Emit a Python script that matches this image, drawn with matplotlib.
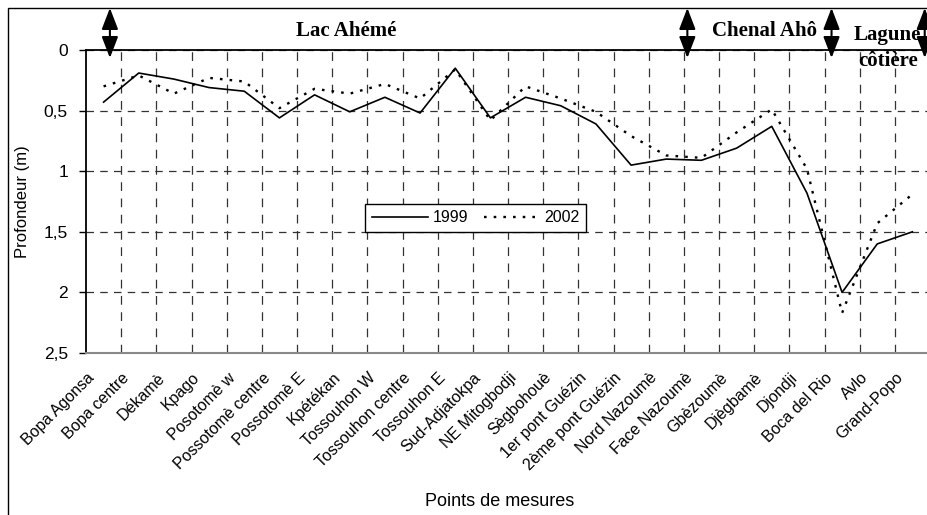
import matplotlib
matplotlib.use("Agg")
import matplotlib.pyplot as plt
from matplotlib.patches import Rectangle
import matplotlib.transforms as mtransforms
import numpy as np

plt.rcParams['font.family'] = ['Liberation Sans', 'DejaVu Sans']

# points de mesure
points = ["Bopa Agonsa", "Bopa centre", "Dékamè", "Kpago", "Posotomè w",
          "Possotomè centre", "Possotomè E", "Kpétékan", "Tossouhon W",
          "Tossouhon centre", "Tossouhon E", "Sud-Adjatokpa", "NE Mitogbodji",
          "Sègbohouè", "1er pont Guézin", "2ème pont Guézin", "Nord Nazoumè",
          "Face Nazoumè", "Gbèzoumè", "Djègbamè", "Djondji", "Boca del Rio",
          "Avlo", "Grand-Popo"]

prof_1999 = [0.43, 0.19, 0.24, 0.31, 0.34, 0.56, 0.37, 0.51, 0.39, 0.52,
             0.15, 0.56, 0.39, 0.46, 0.61, 0.95, 0.90, 0.91, 0.81, 0.63,
             1.18, 2.00, 1.60, 1.50]
prof_2002 = [0.30, 0.21, 0.36, 0.23, 0.26, 0.48, 0.32, 0.36, 0.28, 0.40,
             0.16, 0.58, 0.30, 0.40, 0.51, 0.71, 0.87, 0.89, 0.68, 0.49,
             0.98, 2.17, 1.43, 1.19]

yticks = [0, 0.5, 1, 1.5, 2, 2.5]
ytick_labels = ["0", "0,5", "1", "1,5", "2", "2,5"]

# zones (position x en unités de catégorie)
zones = [("Lac Ahémé", 6.9), ("Chenal Ahô", 18.8), ("Lagune\ncôtière", 22.3)]
fleches = [0.18, 16.6, 20.7, 23.35]

W, H = 927, 515
fig = plt.figure(figsize=(W / 100, H / 100), dpi=100)
ax = fig.add_axes([86 / W, (H - 353) / H, (930 - 86) / W, 303 / H])

x = np.arange(len(points))
ax.plot(x, prof_1999, color='black', lw=1.2, label='1999')
ax.plot(x, prof_2002, color='black', lw=1.7, linestyle=(0, (1.1, 3.0)), label='2002')

ax.set_xlim(-0.5, len(points) - 0.5)
ax.set_ylim(2.5, 0)
ax.set_yticks(yticks)
ax.set_yticklabels(ytick_labels, fontsize=12.5)
ax.set_xticks(x)
ax.set_xticklabels([])
ax.set_xticks(x[:-1] + 0.5, minor=True)
ax.tick_params(axis='x', which='both', length=0)
ax.tick_params(axis='y', length=5, width=1, direction='out', pad=8)

# étiquettes des points, décalées comme dans l'original
decal = mtransforms.ScaledTranslation(-0.17, -0.17, fig.dpi_scale_trans)
for i, nom in enumerate(points):
    ax.text(x[i], 0, nom, transform=ax.get_xaxis_transform() + decal,
            rotation=45, ha='right', va='top', rotation_mode='anchor', fontsize=11.5)

ax.grid(True, axis='y', which='major', color='#333333', lw=0.9, linestyle=(0, (6, 5)))
ax.grid(True, axis='x', which='minor', color='#333333', lw=0.9, linestyle=(0, (7, 6)))
ax.grid(False, axis='x', which='major')

ax.spines['top'].set_linewidth(1.3)
ax.spines['left'].set_linewidth(1.3)
ax.spines['bottom'].set_color('#888888')
ax.spines['bottom'].set_linewidth(1.5)
ax.spines['right'].set_visible(False)

ax.set_ylabel("Profondeur (m)", fontsize=12)
ax.yaxis.set_label_coords(-0.066, 0.5)
fig.text(500 / W, 1 - 502 / H, "Points de mesures", fontsize=13, ha='center', va='center')

leg = ax.legend(loc='center', bbox_to_anchor=(0.462, 0.446), ncol=2, fontsize=11.5,
                handlelength=3.5, frameon=True, fancybox=False, framealpha=1,
                edgecolor='black', borderpad=0.4, columnspacing=1.0, handletextpad=0.3,
                borderaxespad=0)
leg.get_frame().set_linewidth(1.0)

# zones et flèches au-dessus du graphique
trans = mtransforms.blended_transform_factory(ax.transData, fig.transFigure)
for nom, xpos in zones:
    yy = 1 - 31 / H if "\n" not in nom else 1 - 48 / H
    ax.text(xpos, yy, nom, transform=trans, ha='center', va='center',
            fontsize=15, fontweight='bold', family='Liberation Serif',
            linespacing=1.4, clip_on=False)
for xf in fleches:
    ax.annotate("", xy=(xf, 1 - 58 / H), xytext=(xf, 1 - 8 / H),
                xycoords=trans, textcoords=trans, annotation_clip=False,
                arrowprops=dict(arrowstyle='<|-|>,head_width=0.5,head_length=1.3',
                                color='black', lw=1.5, shrinkA=0, shrinkB=0))

# cadre extérieur
fig.patches.append(Rectangle((8 / W, -0.05), 1.1, 1 - 8 / H + 0.05,
                             transform=fig.transFigure, fill=False,
                             edgecolor='black', lw=1.0))

fig.savefig("out.png", dpi=100)
